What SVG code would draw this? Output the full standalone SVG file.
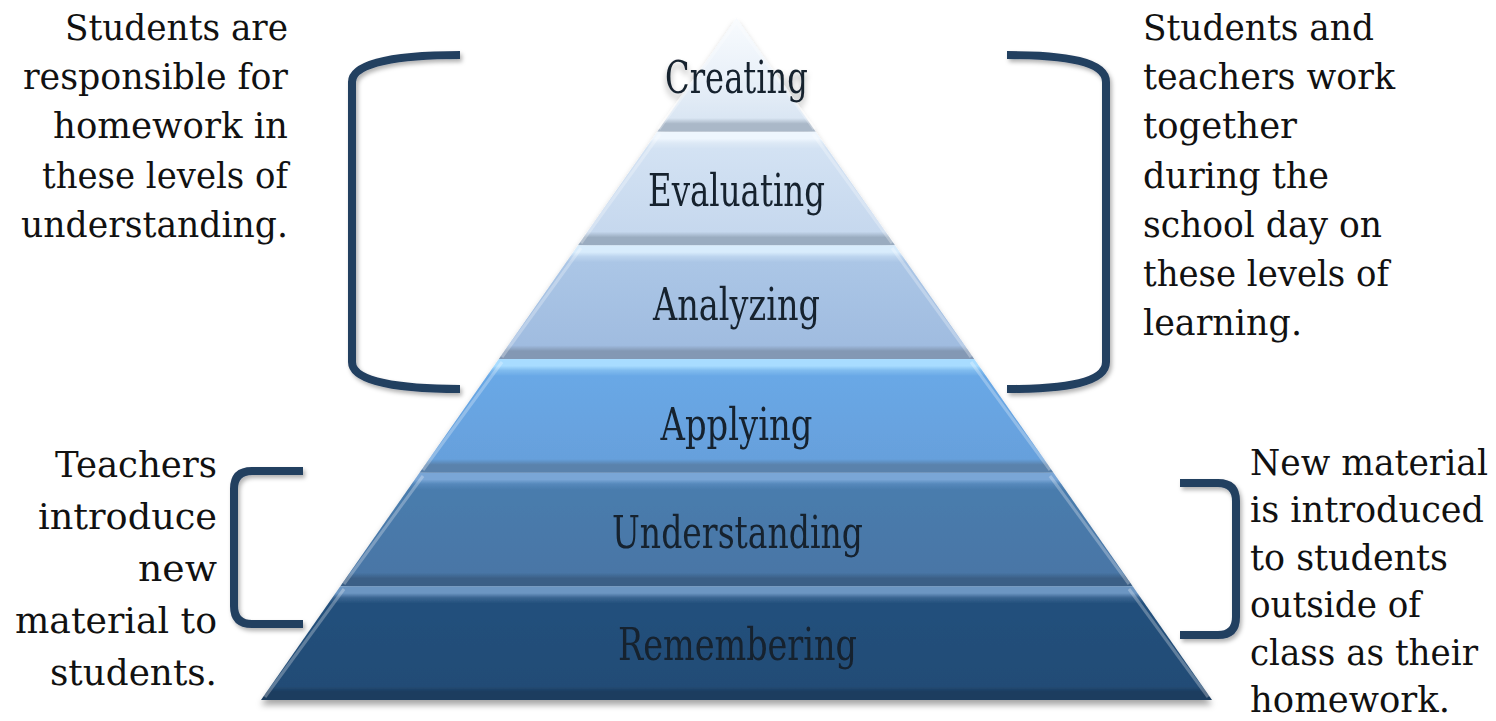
<svg xmlns="http://www.w3.org/2000/svg" width="1496" height="721" viewBox="0 0 1496 721">
<defs>
<style>
.side{font-family:"DejaVu Serif","Liberation Serif",serif;font-size:35px;fill:#111;}
.lbl{font-family:"DejaVu Serif","Liberation Serif",serif;font-size:45px;fill:#15212e;text-anchor:middle;}
.br{fill:none;stroke:#243f60;stroke-width:8;stroke-linecap:butt;}
.edge{fill:none;stroke:#fff;stroke-opacity:.28;stroke-width:3;}
</style>
<filter id="shadow" x="-10%" y="-10%" width="120%" height="125%">
<feDropShadow dx="0" dy="5" stdDeviation="3" flood-color="#000" flood-opacity=".35"/>
</filter>
<filter id="bshadow" x="-10%" y="-10%" width="130%" height="130%">
<feDropShadow dx="2" dy="3" stdDeviation="2" flood-color="#000" flood-opacity=".3"/>
</filter>
<linearGradient id="g1" x1="0" y1="0" x2="0" y2="1">
<stop offset="0" stop-color="#f8fbfe"/><stop offset=".5" stop-color="#eaf1f9"/><stop offset=".88" stop-color="#dae6f3"/><stop offset=".93" stop-color="#aab8c8"/><stop offset="1" stop-color="#aab8c8"/>
</linearGradient>
<linearGradient id="g2" x1="0" y1="0" x2="0" y2="1">
<stop offset="0" stop-color="#eef6fe"/><stop offset=".06" stop-color="#eef6fe"/><stop offset=".1" stop-color="#dde9f6"/><stop offset=".15" stop-color="#d3e2f3"/><stop offset=".88" stop-color="#c6d8ee"/><stop offset=".93" stop-color="#9aacc0"/><stop offset="1" stop-color="#9aacc0"/>
</linearGradient>
<linearGradient id="g3" x1="0" y1="0" x2="0" y2="1">
<stop offset="0" stop-color="#d8ecfc"/><stop offset=".06" stop-color="#d8ecfc"/><stop offset=".1" stop-color="#bcd4ee"/><stop offset=".15" stop-color="#abc6e6"/><stop offset=".88" stop-color="#a0bce0"/><stop offset=".93" stop-color="#8398b4"/><stop offset="1" stop-color="#8398b4"/>
</linearGradient>
<linearGradient id="g4" x1="0" y1="0" x2="0" y2="1">
<stop offset="0" stop-color="#a8dcff"/><stop offset=".06" stop-color="#a8dcff"/><stop offset=".1" stop-color="#80bcef"/><stop offset=".15" stop-color="#69a8e6"/><stop offset=".88" stop-color="#66a0dc"/><stop offset=".93" stop-color="#5a82ac"/><stop offset="1" stop-color="#5a82ac"/>
</linearGradient>
<linearGradient id="g5" x1="0" y1="0" x2="0" y2="1">
<stop offset="0" stop-color="#7aa6d6"/><stop offset=".06" stop-color="#7aa6d6"/><stop offset=".1" stop-color="#5588bb"/><stop offset=".15" stop-color="#4a7cad"/><stop offset=".88" stop-color="#4876a6"/><stop offset=".93" stop-color="#3b5f86"/><stop offset="1" stop-color="#3b5f86"/>
</linearGradient>
<linearGradient id="g6" x1="0" y1="0" x2="0" y2="1">
<stop offset="0" stop-color="#6c96c2"/><stop offset=".06" stop-color="#6c96c2"/><stop offset=".1" stop-color="#3a6592"/><stop offset=".15" stop-color="#24507c"/><stop offset=".88" stop-color="#234c76"/><stop offset=".93" stop-color="#1c3c5e"/><stop offset="1" stop-color="#1c3c5e"/>
</linearGradient>
</defs>
<rect width="1496" height="721" fill="#fff"/>

<g id="pyramid" filter="url(#shadow)">
<g id="level-creating">
<polygon points="736.5,18 815.7,131.7 657.3,131.7" fill="url(#g1)"/>
<polyline class="edge" points="659,129 736.5,22 814,129"/>
<text class="lbl" x="736.5" y="93" textLength="143" lengthAdjust="spacingAndGlyphs">Creating</text>
</g>
<g id="level-evaluating">
<polygon points="657.3,131.7 815.7,131.7 895,245.3 578,245.3" fill="url(#g2)"/>
<polyline class="edge" points="581,243 660,134"/><polyline class="edge" points="813,134 892,243"/>
<text class="lbl" x="736.5" y="206" textLength="177" lengthAdjust="spacingAndGlyphs">Evaluating</text>
</g>
<g id="level-analyzing">
<polygon points="578,245.3 895,245.3 974.2,359 498.8,359" fill="url(#g3)"/>
<polyline class="edge" points="502,357 581,248"/><polyline class="edge" points="892,248 971,357"/>
<text class="lbl" x="736.5" y="320" textLength="167" lengthAdjust="spacingAndGlyphs">Analyzing</text>
</g>
<g id="level-applying">
<polygon points="498.8,359 974.2,359 1053.5,472.7 419.5,472.7" fill="url(#g4)"/>
<polyline class="edge" points="423,470 502,362"/><polyline class="edge" points="971,362 1050,470"/>
<text class="lbl" x="736.5" y="440" textLength="152" lengthAdjust="spacingAndGlyphs">Applying</text>
</g>
<g id="level-understanding">
<polygon points="419.5,472.7 1053.5,472.7 1132.7,586.3 340.3,586.3" fill="url(#g5)"/>
<polyline class="edge" points="344,584 423,476"/><polyline class="edge" points="1050,476 1129,584"/>
<text class="lbl" x="737.5" y="548" textLength="251" lengthAdjust="spacingAndGlyphs">Understanding</text>
</g>
<g id="level-remembering">
<polygon points="340.3,586.3 1132.7,586.3 1212,700 261,700" fill="url(#g6)"/>
<polyline class="edge" points="265,697 344,589"/><polyline class="edge" points="1129,589 1208,697"/>
<text class="lbl" x="737.5" y="660" textLength="239" lengthAdjust="spacingAndGlyphs">Remembering</text>
</g>
</g>

<g id="connectors" filter="url(#bshadow)">
<path id="bracket-left-top" class="br" d="M460,55 C400,55 352,62 352,82 L352,362 C352,382 400,389 460,389"/>
<path id="bracket-right-top" class="br" d="M1007,55 C1067,55 1106,62 1106,82 L1106,362 C1106,382 1067,389 1007,389"/>
<path id="bracket-left-bottom" class="br" d="M303,471 L252,471 Q234,471 234,489 L234,606 Q234,624 252,624 L303,624"/>
<path id="bracket-right-bottom" class="br" d="M1180,483 L1218,483 Q1236,483 1236,501 L1236,617 Q1236,635 1218,635 L1180,635"/>
</g>

<g id="text-left-top" class="side" text-anchor="end">
<text class="side" x="288" y="40" textLength="223" lengthAdjust="spacingAndGlyphs">Students are</text>
<text class="side" x="288" y="89" textLength="265" lengthAdjust="spacingAndGlyphs">responsible for</text>
<text class="side" x="288" y="138" textLength="235" lengthAdjust="spacingAndGlyphs">homework in</text>
<text class="side" x="288" y="188" textLength="246" lengthAdjust="spacingAndGlyphs">these levels of</text>
<text class="side" x="288" y="237" textLength="267" lengthAdjust="spacingAndGlyphs">understanding.</text>
</g>

<g id="text-right-top" class="side">
<text class="side" x="1143" y="40" textLength="231" lengthAdjust="spacingAndGlyphs">Students and</text>
<text class="side" x="1143" y="89" textLength="252" lengthAdjust="spacingAndGlyphs">teachers work</text>
<text class="side" x="1143" y="138" textLength="154" lengthAdjust="spacingAndGlyphs">together</text>
<text class="side" x="1143" y="188" textLength="186" lengthAdjust="spacingAndGlyphs">during the</text>
<text class="side" x="1143" y="237" textLength="239" lengthAdjust="spacingAndGlyphs">school  day on</text>
<text class="side" x="1143" y="286" textLength="246" lengthAdjust="spacingAndGlyphs">these levels of</text>
<text class="side" x="1143" y="335" textLength="159" lengthAdjust="spacingAndGlyphs">learning.</text>
</g>

<g id="text-left-bottom" class="side" text-anchor="end">
<text class="side" x="217" y="477" textLength="162" lengthAdjust="spacingAndGlyphs">Teachers</text>
<text class="side" x="217" y="529" textLength="179" lengthAdjust="spacingAndGlyphs">introduce</text>
<text class="side" x="217" y="581" textLength="79" lengthAdjust="spacingAndGlyphs">new</text>
<text class="side" x="217" y="633" textLength="202" lengthAdjust="spacingAndGlyphs">material to</text>
<text class="side" x="217" y="685" textLength="167" lengthAdjust="spacingAndGlyphs">students.</text>
</g>

<g id="text-right-bottom" class="side">
<text class="side" x="1250" y="475" textLength="238" lengthAdjust="spacingAndGlyphs">New material</text>
<text class="side" x="1250" y="522" textLength="234" lengthAdjust="spacingAndGlyphs">is introduced</text>
<text class="side" x="1250" y="570" textLength="198" lengthAdjust="spacingAndGlyphs">to students</text>
<text class="side" x="1250" y="617" textLength="171" lengthAdjust="spacingAndGlyphs">outside of</text>
<text class="side" x="1250" y="665" textLength="228" lengthAdjust="spacingAndGlyphs">class as their</text>
<text class="side" x="1250" y="712" textLength="200" lengthAdjust="spacingAndGlyphs">homework.</text>
</g>
</svg>
